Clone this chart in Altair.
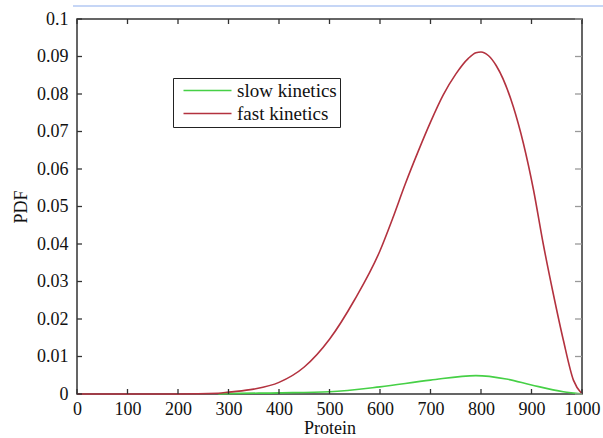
import altair as alt
import pandas as pd

# ---- data ----
protein_fast = [0, 100, 200, 280, 300, 350, 400, 450, 500, 550, 600, 625, 650, 675, 700,
                725, 750, 775, 790, 800, 815, 830, 864, 884, 904, 923, 943, 963, 983, 1000]
pdf_fast = [0, 0, 0, 0.0002, 0.0005, 0.0013, 0.0031, 0.0072, 0.0146, 0.0252, 0.0382, 0.0468,
            0.056, 0.0645, 0.0725, 0.0797, 0.0853, 0.0895, 0.091, 0.0912, 0.0902, 0.0876,
            0.0766, 0.0668, 0.0544, 0.0402, 0.0268, 0.0144, 0.0037, 0]

protein_slow = [280, 300, 400, 500, 600, 700, 790, 850, 900, 963, 1000]
pdf_slow = [0, 0.0001, 0.0003, 0.0006, 0.0019, 0.0037, 0.0049, 0.004, 0.0024, 0.0006, 0]

series_names = ["slow kinetics", "fast kinetics"]
series_colors = ["#46d046", "#b3323f"]

x_ticks = [0, 100, 200, 300, 400, 500, 600, 700, 800, 900, 1000]
y_ticks = [0, 0.01, 0.02, 0.03, 0.04, 0.05, 0.06, 0.07, 0.08, 0.09, 0.1]

df = pd.concat([
    pd.DataFrame({"protein": protein_slow, "pdf": pdf_slow, "series": series_names[0]}),
    pd.DataFrame({"protein": protein_fast, "pdf": pdf_fast, "series": series_names[1]}),
])
xt = pd.DataFrame({"protein": x_ticks})
yt = pd.DataFrame({"pdf": y_ticks})

W, H = 505, 375
FONT = "Liberation Serif"
xs = alt.Scale(domain=[0, 1000], nice=False, zero=False)
ys = alt.Scale(domain=[0, 0.1], nice=False)
axis_style = dict(domain=False, ticks=False, grid=False, labelFont=FONT, labelFontSize=18,
                  labelColor="#111", titleFont=FONT, titleFontSize=18,
                  titleFontWeight="normal", titleColor="#111")
x_axis = alt.Axis(values=x_ticks, format="d", title="Protein", labelPadding=6, titlePadding=1,
                  labelFlush=False, **axis_style)
y_axis = alt.Axis(values=y_ticks, format="~g", title="PDF", labelPadding=9, titlePadding=6,
                  **axis_style)
X = alt.X("protein:Q", scale=xs, axis=x_axis, title="Protein")
Y = alt.Y("pdf:Q", scale=ys, axis=y_axis, title="PDF")

# custom stroke symbol: long horizontal line, small row height
SYM = "M-1,0H5"

lines = alt.Chart(df).mark_line(strokeWidth=1.6, interpolate="monotone").encode(
    x=X, y=Y,
    color=alt.Color("series:N",
                    scale=alt.Scale(domain=series_names, range=series_colors),
                    sort=series_names,
                    legend=alt.Legend(title=None, orient="none", legendX=96, legendY=59,
                                      strokeColor="#222", fillColor="white", padding=3,
                                      symbolType=SYM, symbolSize=256, symbolOffset=6,
                                      symbolStrokeWidth=1.6, labelFont=FONT,
                                      labelFontSize=19, labelColor="#111",
                                      labelOffset=36, rowPadding=3, cornerRadius=0)),
    detail="series:N",
)

bottom_ticks = alt.Chart(xt).mark_rule(color="#333", strokeWidth=1.3).encode(
    x=X, y=alt.value(H), y2=alt.value(H - 5))
top_ticks = alt.Chart(xt).mark_rule(color="#333", strokeWidth=1.3).encode(
    x=X, y=alt.value(0), y2=alt.value(5))
left_ticks = alt.Chart(yt).mark_rule(color="#333", strokeWidth=1.3).encode(
    y=Y, x=alt.value(0), x2=alt.value(5))
right_ticks = alt.Chart(yt).mark_rule(color="#999", strokeWidth=1.3).encode(
    y=Y, x=alt.value(W), x2=alt.value(W - 7))

top_line = alt.Chart(xt).mark_rule(color="#c6d6f6", strokeWidth=1.2).encode(
    x=alt.value(-4), x2=alt.value(W + 21), y=alt.value(-13))

chart = alt.layer(lines, bottom_ticks, top_ticks, left_ticks, right_ticks, top_line).properties(
    width=W, height=H,
    background="white",
    autosize=alt.AutoSizeParams(type="none"),
    padding={"left": 77, "top": 19, "right": 21, "bottom": 44},
).configure_view(stroke="#333", strokeWidth=1.5)

chart.save("out.html", embed_options={"renderer": "svg", "actions": False})
